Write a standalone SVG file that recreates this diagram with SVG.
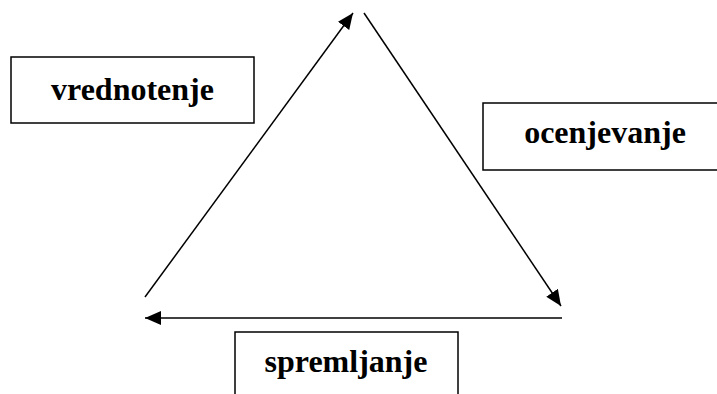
<svg xmlns="http://www.w3.org/2000/svg" width="717" height="394" viewBox="0 0 717 394">
<style>
.box{fill:#fff;stroke:#000;stroke-width:1.5}
.lbl{font-family:'Liberation Serif','Times New Roman',serif;font-weight:700;font-size:32px;fill:#000;text-anchor:middle}
.con{stroke:#000;stroke-width:1.5;fill:none}
</style>
<defs>
<marker id="ah" markerUnits="userSpaceOnUse" markerWidth="18" markerHeight="16" refX="16" refY="7" orient="auto">
<path d="M0,0 L16,7 L0,14 Z" fill="#000"/>
</marker>
</defs>
<rect width="717" height="394" fill="#fff"/>
<g id="connectors">
<line class="con" x1="145" y1="297" x2="353" y2="13" marker-end="url(#ah)"/>
<line class="con" x1="364" y1="13" x2="561" y2="306" marker-end="url(#ah)"/>
<line class="con" x1="562" y1="318" x2="145" y2="318" marker-end="url(#ah)"/>
</g>
<g id="vrednotenje">
<rect class="box" x="11" y="57" width="243" height="66"/>
<text class="lbl" x="132.5" y="100">vrednotenje</text>
</g>
<g id="ocenjevanje">
<rect class="box" x="483" y="103" width="250" height="67"/>
<text class="lbl" x="605" y="143">ocenjevanje</text>
</g>
<g id="spremljanje">
<rect class="box" x="235" y="332" width="223" height="80"/>
<text class="lbl" x="346" y="372">spremljanje</text>
</g>
</svg>
